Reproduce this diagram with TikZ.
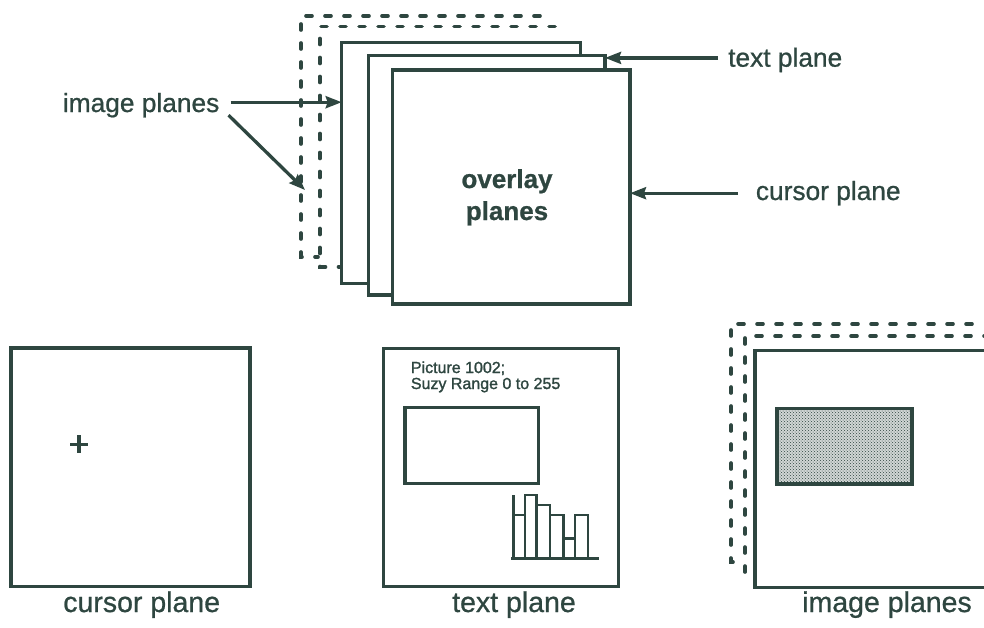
\documentclass[tikz,border=0pt]{standalone}
\usepackage{fontspec}
\setmainfont{Liberation Sans}[FakeBold=0.8]
\newfontfamily\heavyfont{Liberation Sans}[FakeBold=1.5]
\usetikzlibrary{arrows.meta,patterns}
\definecolor{ink}{RGB}{46,70,64}
\begin{document}
\begin{tikzpicture}[x=1pt,y=-1pt,
  inkline/.style={draw=ink,line width=3.3pt},
  plane/.style={draw=ink,line width=3.3pt,fill=white,inner sep=0pt,outer sep=0pt,anchor=north west},
  dashplane/.style={draw=ink,line width=3.6pt,dash pattern=on 6pt off 13pt,line cap=round},
  arr/.style={draw=ink,line width=3.3pt,-{Stealth[length=16pt,width=12pt,inset=2pt]}},
  toplabel/.style={text=ink,inner sep=0pt,anchor=base west,font=\fontsize{26.3}{30}\selectfont},
  botlabel/.style={text=ink,inner sep=0pt,anchor=base,font=\fontsize{28.5}{32}\selectfont},
  smalltext/.style={text=ink,inner sep=0pt,anchor=base west,font=\fontsize{16}{16}\selectfont},
  ovtext/.style={text=ink,inner sep=0pt,anchor=base,font=\bfseries\fontsize{26}{30}\selectfont},
  histline/.style={draw=ink,line width=2.8pt}
]
\useasboundingbox[fill=white] (0,0) rectangle (984,627);

% ---------- top stack ----------
\draw[dashplane] (540,16) -- (301,16) -- (301,257) -- (318,257);
\draw[dashplane] (555,26.5) -- (320,26.5) -- (320,267) -- (342,267);
\node[plane,minimum width=239,minimum height=241] (r3) at (341.7,42.3) {};
\node[plane,minimum width=236.7,minimum height=239.3] (r4) at (368.3,55.7) {};
\node[plane,minimum width=237.3,minimum height=234] (r5) at (392.7,70) {};
\node[ovtext] (ov1) at (507,188) {overlay};
\node[ovtext] (ov2) at (507,220) {planes};

% labels and arrows
\node[toplabel] (ipl) at (62.7,112) {image planes};
\node[toplabel] (tpl) at (728,66.7) {text plane};
\node[toplabel] (cpl) at (755.7,200) {cursor plane};

\coordinate (a1s) at ([xshift=11pt,yshift=3pt]ipl.east);
\coordinate (a2s) at ([xshift=9pt,yshift=-10pt]ipl.east);
\coordinate (a2e) at (305,190);
\coordinate (a3s) at ([xshift=-10pt,yshift=2pt]tpl.west);
\coordinate (a4s) at ([xshift=-17.7pt]cpl.west);

\draw[arr] (a1s) -- (a1s -| r3.west);
\draw[arr] (a2s) -- (a2e);
\draw[arr] (a3s) -- (a3s -| r4.east);
\draw[arr] (a4s) -- (a4s -| r5.east);

% ---------- bottom: cursor plane ----------
\node[plane,minimum width=239,minimum height=238.7] (cbox) at (11,348) {};
\draw[inkline,line width=3.6pt] (70,444.3) -- (88,444.3);
\draw[inkline,line width=3.6pt] (79,435.3) -- (79,453.3);
\node[botlabel] (cbl) at (141.7,612) {cursor plane};

% ---------- bottom: text plane ----------
\node[plane,minimum width=235,minimum height=238.4] (tbox) at (383.3,348.3) {};
\node[smalltext] (pic1) at (410.7,373) {\heavyfont Picture 1002;};
\node[smalltext] (pic2) at (410.7,389) {\heavyfont Suzy Range 0 to 255};
\node[plane,minimum width=133.3,minimum height=76] (trect) at (405,407.3) {};
\draw[histline] (511,558.3) -- (599,558.3);
\draw[histline] (513.3,495) -- (513.3,558.3);
\draw[histline] (513.3,515) -- (525,515) -- (525,495) -- (536.7,495) -- (536.7,505)
  -- (550,505) -- (550,515) -- (563.3,515) -- (563.3,538.3) -- (575,538.3)
  -- (575,515) -- (588,515) -- (588,558.3);
\draw[histline] (525,495) -- (525,558.3);
\draw[histline] (536.7,505) -- (536.7,558.3);
\draw[histline] (550,515) -- (550,558.3);
\draw[histline] (563.3,538.3) -- (563.3,558.3);
\draw[histline] (575,538.3) -- (575,558.3);
\node[botlabel] (tbl) at (514,612) {text plane};

% ---------- bottom: image planes ----------
\draw[dashplane] (972,324) -- (731,324) -- (731,562) -- (742,562);
\draw[dashplane] (990,336) -- (745,336) -- (745,575) -- (752,575);
\draw[inkline] (990,350.7) -- (755,350.7) -- (755,587.5) -- (990,587.5);
\node[draw=ink,line width=3.3pt,fill=ink!22,postaction={pattern=crosshatch dots,pattern color=ink},
      inner sep=0pt,outer sep=0pt,anchor=north west,minimum width=135,minimum height=75.7] (srect) at (777,408.3) {};
\node[botlabel] (ibl) at (887,612) {image planes};
\end{tikzpicture}
\end{document}
